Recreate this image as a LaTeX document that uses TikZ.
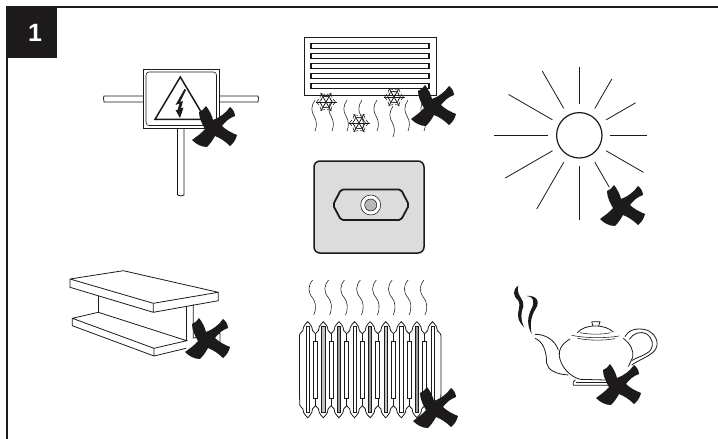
\documentclass[tikz,border=0pt]{standalone}
\usepackage{fontspec}
\setmainfont{Liberation Sans}
\usetikzlibrary{calc}
\definecolor{ink}{HTML}{1C1A1B}
\definecolor{plate}{HTML}{DCDCDC}
\definecolor{stripe}{HTML}{9A9A9A}
\begin{document}
\begin{tikzpicture}[
  x=1pt, y=-1pt,
  line/.style={draw=ink, line width=0.8pt},
  thin line/.style={draw=ink, line width=0.55pt},
  heavy/.style={draw=ink, line width=1.5pt},
  frame/.style={draw=ink, line width=1.4pt},
  badge/.style={fill=ink, text=white, font=\bfseries\fontsize{25}{25}\selectfont,
    minimum width=50pt, minimum height=51pt, inner sep=0pt},
  cross/.pic={
    \fill[ink] (-8,-20) .. controls (-4,-15) and (-2,-10) .. (-1,-6)
      .. controls (5,-8) and (12,-13) .. (16,-19)
      .. controls (19,-17) and (21,-13) .. (21,-10)
      .. controls (15,-8) and (11,-4) .. (8,0)
      .. controls (12,4) and (18,7) .. (23,9)
      .. controls (22,13) and (20,17) .. (16,20)
      .. controls (11,15) and (6,12) .. (1,10)
      .. controls (-1,14) and (-4,18) .. (-7,21)
      .. controls (-13,21) and (-18,18) .. (-22,14)
      .. controls (-18,11) and (-12,7) .. (-9,3)
      .. controls (-12,-2) and (-15,-8) .. (-15,-14)
      .. controls (-12,-15) and (-10,-17) .. (-8,-20) -- cycle;
  },
  flake/.pic={
    \foreach \a in {0,60,120} {
      \draw[line, rotate=\a] (-10.5,0) -- (10.5,0);
      \draw[thin line, rotate=\a] (4,-3.5) -- (6.5,0) -- (4,3.5) (-4,-3.5) -- (-6.5,0) -- (-4,3.5)
        (7,-3) -- (9.5,0) -- (7,3) (-7,-3) -- (-9.5,0) -- (-7,3);
    }
  },
  wiggle/.pic={
    \draw[thin line] (0,0) .. controls (-4,6) and (-4,11) .. (-1,16)
      .. controls (2,21) and (2,26) .. (0,31);
  },
  steam/.pic={
    \draw[thin line] (0,0) .. controls (-5,6) and (-5,12) .. (0,18)
      .. controls (3,22) and (4,28) .. (1,35);
  },
]

  % ── Page frame and badge ────────────────────────────────────────────────
  \useasboundingbox (0,0) rectangle (718,439);
  \coordinate (frameTL) at (7,7);
  \draw[frame] (718,7) -- (frameTL) -- (7,439);
  \node[badge] (badge) at (32,32.5) {\hspace*{6pt}\raisebox{-1.5pt}{1}};

  % ── Warning sign on its pole ────────────────────────────────────────────
  \draw[line] (143,96) -- (104,96) -- (103.5,98) -- (104,102) -- (143,102);
  \draw[line] (219,96) -- (258,96) -- (258.5,98) -- (258,102) -- (219,102);
  \draw[line] (177.5,128) -- (177.5,195) -- (181,196) -- (184,195) -- (184,128);
  \draw[line] (143,69) rectangle (219,128);
  \draw[thin line, rounded corners=3pt] (146,72) rectangle (216.5,125.5);
  \draw[heavy, line join=miter] (180.3,77) -- (155,119.3) -- (205.5,119.3) -- cycle;
  \fill[ink] (184.5,89) -- (175.5,105) -- (179.5,103.5) -- (177.5,110) -- (175.5,110)
    -- (180,118) -- (183.5,107.5) -- (181,108.5) -- (183,101) -- (180,102) -- (186,90) -- cycle;
  \pic at (214,126) {cross};

  % ── Air conditioner ─────────────────────────────────────────────────────
  \draw[line] (304,37) rectangle (436,95);
  \foreach \y in {43.3,53.3,63.3,73.3,83.3}
    \draw[heavy] (311,\y) rectangle (429,\y+5);
  \foreach \x/\y in {315/100,332/100,347/100,362/100,377/100,393/106,408/100,424/100}
    \pic at (\x,\y) {wiggle};
  \pic at (326,102) {flake};
  \pic at (359,123) {flake};
  \pic at (394,97) {flake};
  \pic at (433,105) {cross};

  % ── Socket plate ────────────────────────────────────────────────────────
  \draw[heavy, fill=plate, rounded corners=6pt] (314,161) rectangle (424,253);
  \draw[heavy, line width=1.8pt, rounded corners=2pt] (333,205) -- (341,189.5) -- (401,189.5)
    -- (409,205) -- (401,220) -- (341,220) -- cycle;
  \coordinate (socket) at (370.7,205);
  \draw[thin line, fill=white] (socket) circle[radius=10];
  \draw[thin line, fill=stripe!70] (socket) circle[radius=6];

  % ── Sun ─────────────────────────────────────────────────────────────────
  \coordinate (sun) at (579.3,135.3);
  \draw[heavy, line width=1.2pt] (sun) circle[radius=22.7];
  \foreach \a/\r in {90/68,60/65,30/65,0/68,-30/74,-60/60,-90/85,-120/85,-150/85.6,180/85.3,150/81.7,120/74}
    \draw[line] ($(sun)+(\a:31pt)$) -- ($(sun)+(\a:\r pt)$);
  \pic at (622,205) {cross};

  % ── Steel beam ──────────────────────────────────────────────────────────
  \draw[line, line join=round] (70,279) -- (123.3,270.7) -- (218.3,292.3) -- (153.3,303.3) -- cycle;
  \draw[line] (70,279) -- (70,287.3) -- (153.3,312.3) -- (153.3,303.3);
  \draw[line] (153.3,312.3) -- (218.3,300.7) -- (218.3,292.3);
  \draw[line] (98.3,295.7) -- (98.3,312.3);
  \draw[line] (186,306) -- (186,340.7);
  \draw[line] (193.3,304.3) -- (193.3,338) -- (220,333.3) -- (220,342);
  \draw[line] (98.3,312.3) -- (72.3,318.3) -- (72.3,325.7) -- (154,356) -- (154,348.3) -- (72.3,318.3);
  \draw[line] (154,348.3) -- (186.7,340.7) -- (98.3,312.3);
  \draw[line] (154,356) -- (186,348.3);
  \pic at (207,338) {cross};

  % ── Radiator ────────────────────────────────────────────────────────────
  \foreach \i in {0,...,7}
    \pic at (312.7+15.9*\i,280) {steam};
  \foreach \i/\c in {0/white,1/stripe!60,2/stripe,3/white,4/stripe,5/stripe!60,6/white,7/stripe,8/white} {
    \begin{scope}[shift={(307.7+15.6*\i,321.7)}]
      \draw[thin line, fill=\c] (-1.6,5) rectangle (1.6,91);
      \draw[line] (-7.8,12) .. controls (-5,10) and (-4,8) .. (-4,5)
        .. controls (-3,3) and (-1,1) .. (0,0) .. controls (1,1) and (3,3) .. (4,5)
        .. controls (4,8) and (5,10) .. (7.8,12);
      \draw[line] (-7.8,84) .. controls (-5,86) and (-4,88) .. (-4,91)
        .. controls (-3,93) and (-1,95) .. (0,96) .. controls (1,95) and (3,93) .. (4,91)
        .. controls (4,88) and (5,86) .. (7.8,84);
    \end{scope}
  }
  \foreach \i in {0,...,7} {
    \begin{scope}[shift={(315.5+15.6*\i,321.7)}]
      \draw[line] (0,12) -- (0,20) (0,77) -- (0,84);
      \draw[line, line width=1pt] (-2,20) rectangle (2,77);
    \end{scope}
  }
  \draw[line] (299.9,333.7) -- (299.4,336) -- (299.4,393) -- (299.9,405.7);
  \draw[line] (440.3,333.7) -- (441,336) -- (441,393) -- (440.3,405.7);
  \pic at (435,407) {cross};

  % ── Teapot ──────────────────────────────────────────────────────────────
  \begin{scope}[shift={(490,270)}, scale=0.3333]
    \draw[line] (240,207) .. controls (215,222) and (205,240) .. (208,258)
      .. controls (212,290) and (240,320) .. (270,328) -- (345,330);
    \draw[line] (400,205) .. controls (420,220) and (432,240) .. (428,262) -- (415,290);
    \draw[line] (262,188) .. controls (275,175) and (290,168) .. (316,168)
      .. controls (340,168) and (358,175) .. (370,186);
    \draw[line] (305,155) -- (330,155) -- (326,168) (305,155) -- (309,168);
    \draw[thin line] (245,196) .. controls (290,205) and (345,205) .. (388,198);
    \draw[thin line] (262,205) .. controls (300,212) and (340,212) .. (375,206);
    \draw[thin line] (270,188) .. controls (300,194) and (335,194) .. (362,188);
    \draw[line] (250,346) -- (360,346) (250,336) -- (256,329) (250,336) -- (250,346);
    \draw[thin line] (258,338) -- (350,338);
    \draw[line] (135,193) .. controls (165,192) and (195,210) .. (205,240);
    \draw[line] (135,205) .. controls (160,215) and (170,245) .. (170,280)
      .. controls (175,300) and (195,312) .. (235,315);
    \draw[line] (405,200) .. controls (415,180) and (440,172) .. (470,180)
      .. controls (495,190) and (508,215) .. (498,235)
      .. controls (490,255) and (455,265) .. (425,285);
    \draw[line] (418,208) .. controls (430,190) and (450,182) .. (470,192)
      .. controls (488,205) and (492,225) .. (482,240)
      .. controls (470,255) and (440,262) .. (425,272);
    \fill[ink] (85,47) .. controls (65,60) and (70,80) .. (85,92)
      .. controls (95,105) and (80,125) .. (85,145) .. controls (88,155) and (95,165) .. (102,172)
      .. controls (92,150) and (92,125) .. (100,110) .. controls (106,90) and (76,75) .. (85,47) -- cycle;
    \fill[ink] (110,78) .. controls (130,78) and (135,95) .. (125,115)
      .. controls (112,140) and (110,165) .. (125,192) .. controls (120,165) and (122,140) .. (136,118)
      .. controls (152,95) and (140,75) .. (110,78) -- cycle;
  \end{scope}
  \pic at (618,384) {cross};

\end{tikzpicture}
\end{document}
